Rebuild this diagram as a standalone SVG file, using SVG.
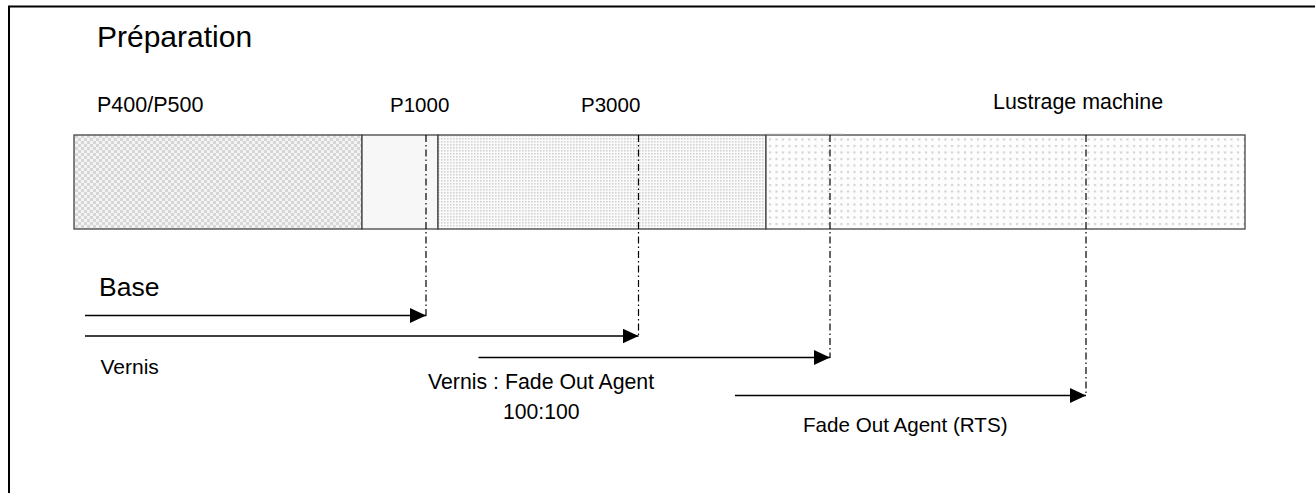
<svg xmlns="http://www.w3.org/2000/svg" width="1315" height="493" viewBox="0 0 1315 493">
  <style>
    .t { font-family: "Liberation Sans", Arial, sans-serif; fill: #000; }
    .seg { stroke: #444; stroke-width: 1.3; }
    .arrow { stroke: #000; stroke-width: 1.4; fill: none; marker-end: url(#head); }
    .guide { stroke: #000; stroke-width: 1.2; fill: none; stroke-dasharray: 7 3 1.5 3; }
  </style>
  <defs>
    <marker id="head" viewBox="0 0 16 15" refX="16" refY="7.5" markerWidth="16" markerHeight="15" markerUnits="userSpaceOnUse" orient="auto">
      <path d="M0,0 L16,7.5 L0,15 Z" fill="#000"/>
    </marker>
    <pattern id="checker" width="6" height="6" patternUnits="userSpaceOnUse">
      <rect width="6" height="6" fill="#f3f3f3"/>
      <rect width="3" height="3" fill="#d6d6d6"/>
      <rect x="3" y="3" width="3" height="3" fill="#d6d6d6"/>
    </pattern>
    <pattern id="densedots" width="3" height="3" patternUnits="userSpaceOnUse">
      <rect width="3" height="3" fill="#fbfbfb"/>
      <rect width="1.6" height="1.6" fill="#d2d2d2"/>
    </pattern>
    <pattern id="sparsedots" width="6.5" height="6.5" patternUnits="userSpaceOnUse">
      <rect width="6.5" height="6.5" fill="#fdfdfd"/>
      <rect x="2" y="2" width="2" height="2" fill="#cdcdcd"/>
    </pattern>
  </defs>

  <rect id="frame" x="9" y="6.5" width="1400" height="600" fill="none" stroke="#000" stroke-width="2"/>

  <g id="title">
    <text class="t" x="97" y="47" font-size="30">Préparation</text>
  </g>

  <g id="seg-p400">
    <rect class="seg" x="74" y="135" width="288" height="94" fill="url(#checker)"/>
    <text class="t" x="97" y="112" font-size="21.5">P400/P500</text>
  </g>
  <g id="seg-p1000">
    <rect class="seg" x="362" y="135" width="76" height="94" fill="#f7f7f7"/>
    <text class="t" x="390" y="112" font-size="20.5">P1000</text>
  </g>
  <g id="seg-p3000">
    <rect class="seg" x="438" y="135" width="328" height="94" fill="url(#densedots)"/>
    <text class="t" x="581" y="112" font-size="20.5">P3000</text>
  </g>
  <g id="seg-lustrage">
    <rect class="seg" x="766" y="135" width="479" height="94" fill="url(#sparsedots)"/>
    <line x1="766" y1="134.3" x2="843" y2="134.3" stroke="#999" stroke-width="1"/>
    <text class="t" x="993" y="109" font-size="21.4">Lustrage machine</text>
  </g>

  <g id="label-base">
    <text class="t" x="99" y="296" font-size="26.5">Base</text>
  </g>
  <g id="label-vernis">
    <text class="t" x="100.5" y="374" font-size="21">Vernis</text>
  </g>
  <g id="label-vernis-fade">
    <text class="t" x="428" y="388.5" font-size="21.3">Vernis : Fade Out Agent</text>
    <text class="t" x="503" y="418.5" font-size="21.2">100:100</text>
  </g>
  <g id="label-fade-rts">
    <text class="t" x="803" y="431.5" font-size="20.6">Fade Out Agent (RTS)</text>
  </g>

  <g id="connectors">
    <line class="guide" x1="426" y1="135" x2="426" y2="316"/>
    <line class="guide" x1="638.5" y1="135" x2="638.5" y2="336"/>
    <line class="guide" x1="830" y1="135" x2="830" y2="358"/>
    <line class="guide" x1="1086" y1="135" x2="1086" y2="396"/>
    <line class="arrow" x1="85" y1="315.5" x2="426" y2="315.5"/>
    <line class="arrow" x1="85" y1="336" x2="638.5" y2="336"/>
    <line class="arrow" x1="478.5" y1="357.5" x2="830" y2="357.5"/>
    <line class="arrow" x1="735" y1="395.5" x2="1086" y2="395.5"/>
  </g>
</svg>
